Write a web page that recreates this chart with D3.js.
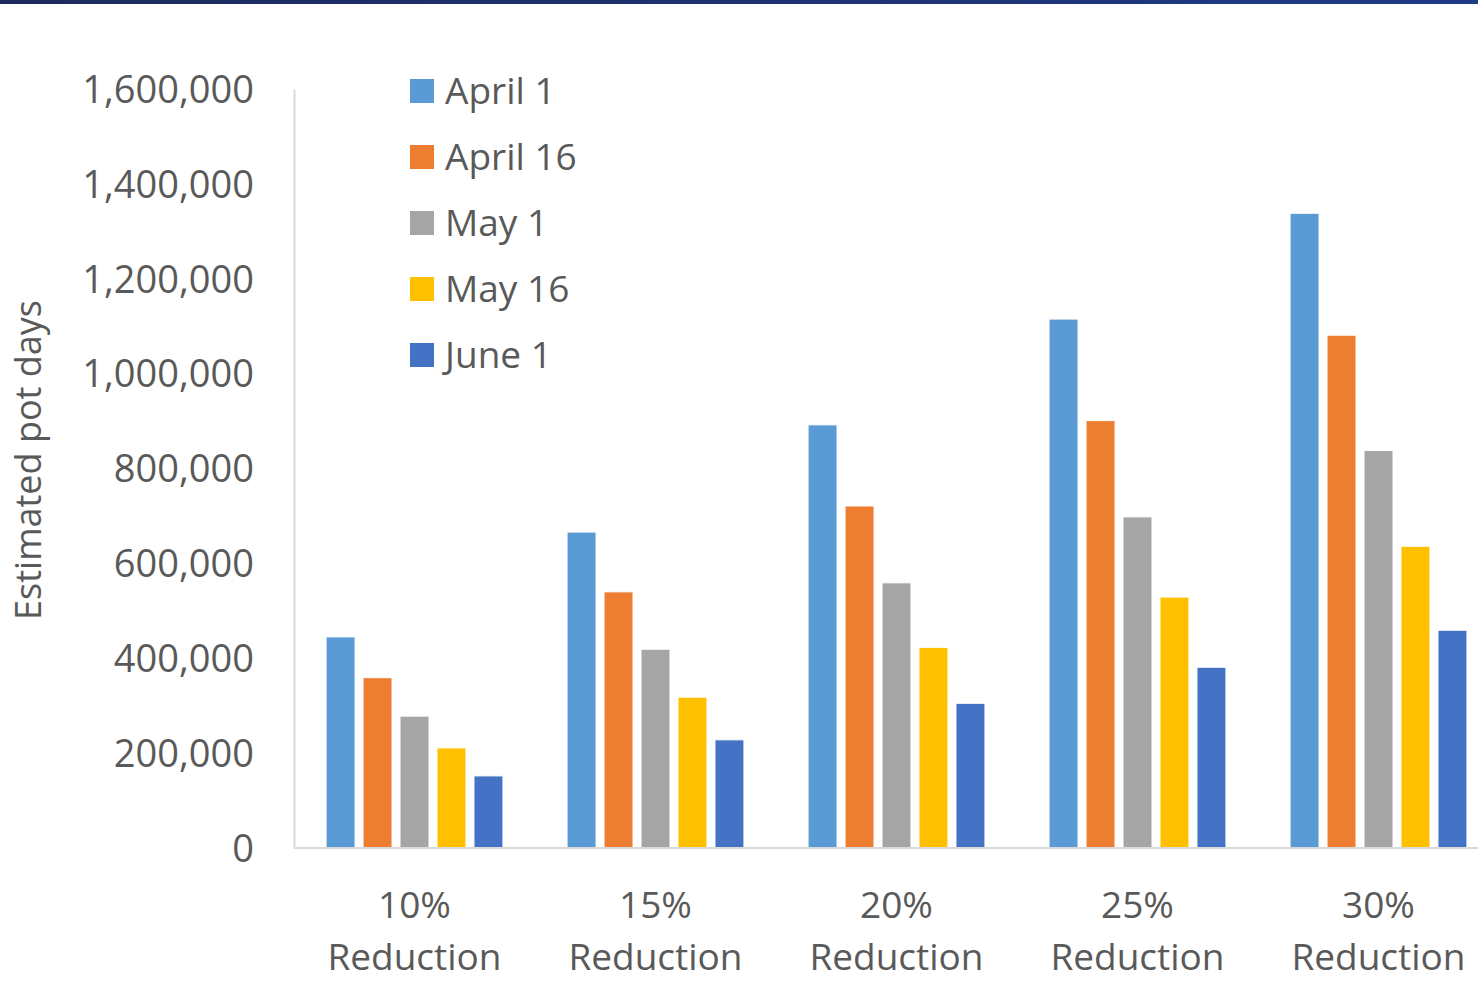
<!DOCTYPE html>
<html>
<head>
<meta charset="utf-8">
<script src="https://cdn.jsdelivr.net/npm/d3@7"></script>
<style>
  html, body { margin: 0; padding: 0; background: #fff; }
  svg { display: block; }
  text { font-family: "Open Sans", "Noto Sans", sans-serif; fill: #595959; }
</style>
</head>
<body>
<svg id="chart" width="1478" height="999"></svg>
<script>
const categories = ["10%|Reduction", "15%|Reduction", "20%|Reduction", "25%|Reduction", "30%|Reduction"];
const seriesNames = ["April 1", "April 16", "May 1", "May 16", "June 1"];
const seriesColors = ["#5B9BD5", "#ED7D31", "#A5A5A5", "#FFC000", "#4472C4"];
const april1  = [445000, 666000, 892000, 1115000, 1338000];
const april16 = [359000, 540000, 721000, 901000, 1081000];
const may1    = [278000, 419000, 559000, 698000, 838000];
const may16   = [211000, 318000, 423000, 529000, 636000];
const june1   = [152000, 228000, 305000, 381000, 459000];
const yTicks  = [0, 200000, 400000, 600000, 800000, 1000000, 1200000, 1400000, 1600000];
const yTitle  = "Estimated pot days";

const seriesValues = [april1, april16, may1, may16, june1];

const svg = d3.select("#chart");

// top border band
const defs = svg.append("defs");
const grad = defs.append("linearGradient").attr("id", "topgrad").attr("x1", "0").attr("x2", "1");
grad.append("stop").attr("offset", "0").attr("stop-color", "#1c2a5c");
grad.append("stop").attr("offset", "1").attr("stop-color", "#1f3a86");
svg.append("rect").attr("x", 0).attr("y", 0).attr("width", 1478).attr("height", 4).attr("fill", "url(#topgrad)");

const y = d3.scaleLinear().domain([0, 1600000]).range([848, 89]);
const x0 = d3.scaleBand().domain(categories).range([294, 1499]).paddingInner(0.266).paddingOuter(0.133);
const x1 = d3.scaleBand().domain(seriesNames).range([0, x0.bandwidth()]).paddingInner(0.216).paddingOuter(0);
const color = d3.scaleOrdinal().domain(seriesNames).range(seriesColors);

// bars
const groups = svg.append("g").selectAll("g")
  .data(categories)
  .join("g")
  .attr("transform", d => `translate(${x0(d)},0)`);

groups.selectAll("rect")
  .data((d, i) => seriesNames.map((s, j) => ({ s, v: seriesValues[j][i] })))
  .join("rect")
  .attr("x", d => x1(d.s))
  .attr("y", d => y(d.v))
  .attr("width", x1.bandwidth())
  .attr("height", d => y(0) - y(d.v))
  .attr("fill", d => color(d.s))
  .attr("stroke", "#ffffff")
  .attr("stroke-width", 1);

// y axis
const yAxis = d3.axisLeft(y).tickValues(yTicks).tickSize(0).tickPadding(40)
  .tickFormat(d3.format(","));
const yg = svg.append("g").attr("transform", "translate(294,0)").call(yAxis);
yg.select(".domain").attr("stroke", "#D9D9D9").attr("stroke-width", 2);
yg.selectAll("text").style("font-size", "38px").attr("fill", "#595959")
  .style("font-family", "'Open Sans', sans-serif").attr("dy", "0.35em");

// x axis baseline
svg.append("line").attr("x1", 294).attr("x2", 1478).attr("y1", y(0)).attr("y2", y(0))
  .attr("stroke", "#D9D9D9").attr("stroke-width", 2);

// x labels
const xl = svg.append("g").selectAll("text").data(categories).join("text")
  .attr("x", d => x0(d) + x0.bandwidth() / 2)
  .attr("text-anchor", "middle")
  .style("font-size", "37px");
xl.each(function(d) {
  const parts = d.split("|");
  const t = d3.select(this);
  t.append("tspan").attr("x", x0(d) + x0.bandwidth() / 2).attr("y", 918).text(parts[0]);
  t.append("tspan").attr("x", x0(d) + x0.bandwidth() / 2).attr("y", 970).text(parts[1]);
});

// y title
svg.append("text")
  .attr("transform", "translate(41,460) rotate(-90)")
  .attr("text-anchor", "middle")
  .style("font-size", "36px")
  .text(yTitle);

// legend
const legend = svg.append("g").selectAll("g").data(seriesNames).join("g")
  .attr("transform", (d, i) => `translate(410,${79 + i * 66})`);
legend.append("rect").attr("width", 24).attr("height", 24).attr("fill", d => color(d));
legend.append("text").attr("x", 35).attr("y", 12).attr("dy", "0.36em")
  .style("font-size", "37px").text(d => d);
</script>
</body>
</html>
